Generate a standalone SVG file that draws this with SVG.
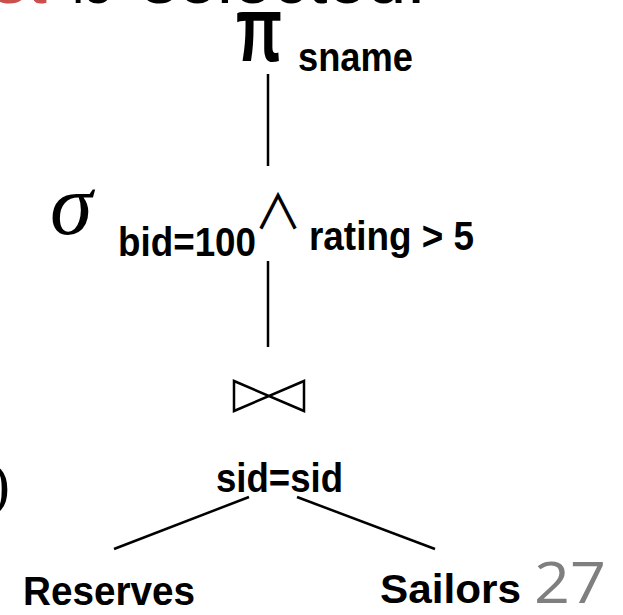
<svg xmlns="http://www.w3.org/2000/svg" width="623" height="615" viewBox="0 0 623 615">
<style>
.lbl{font-family:"Liberation Sans",Arial,sans-serif;font-weight:bold;font-size:40px;fill:#000}
.edge{stroke:#000;stroke-width:2.5;fill:none}
.top{font-family:"Liberation Sans",Arial,sans-serif;font-size:72px}
</style>
<rect width="623" height="615" fill="#fff"/>
<g id="heading">
<text class="top" x="-8" y="3" fill="#C9504C" textLength="55" lengthAdjust="spacingAndGlyphs">st</text>
<text class="top" x="72" y="3" fill="#000" textLength="40" lengthAdjust="spacingAndGlyphs">is</text>
<text class="top" x="142" y="3" fill="#000" textLength="284" lengthAdjust="spacingAndGlyphs">selected.</text>
</g>
<g id="paren"><text x="-10" y="504" font-family="Liberation Serif,serif" font-size="60">)</text></g>
<g id="connectors">
<line class="edge" x1="268" y1="74" x2="268" y2="166"/>
<line class="edge" x1="268" y1="261" x2="268" y2="347"/>
<line class="edge" x1="249" y1="497" x2="114" y2="549"/>
<line class="edge" x1="297" y1="497" x2="435" y2="549"/>
</g>
<g id="projection">
<text x="236" y="61" font-family="Liberation Sans,sans-serif" font-weight="bold" font-size="92" textLength="46" lengthAdjust="spacingAndGlyphs">π</text>
<text class="lbl" x="298" y="71" font-size="38" textLength="115" lengthAdjust="spacingAndGlyphs">sname</text>
</g>
<g id="selection">
<text x="50" y="234" font-family="Liberation Serif,serif" font-style="italic" font-size="86">σ</text>
<text class="lbl" x="118" y="256" textLength="138" lengthAdjust="spacingAndGlyphs">bid=100</text>
<text x="254" y="229" font-family="Noto Sans CJK JP,DejaVu Sans,sans-serif" font-size="48">∧</text>
<text class="lbl" x="309" y="250" textLength="165" lengthAdjust="spacingAndGlyphs">rating &gt; 5</text>
</g>
<g id="join">
<path class="edge" d="M234,381 L234,411 L304,381 L304,411 Z"/>
<text class="lbl" x="216" y="492" textLength="127" lengthAdjust="spacingAndGlyphs">sid=sid</text>
</g>
<g id="reserves"><text class="lbl" x="23" y="605" textLength="172" lengthAdjust="spacingAndGlyphs">Reserves</text></g>
<g id="sailors"><text class="lbl" x="380" y="603" textLength="141" lengthAdjust="spacingAndGlyphs">Sailors</text></g>
<g id="page"><text x="534" y="603" font-family="Open Sans,sans-serif" font-size="56" fill="#7F7F7F" textLength="72" lengthAdjust="spacingAndGlyphs">27</text></g>
</svg>
